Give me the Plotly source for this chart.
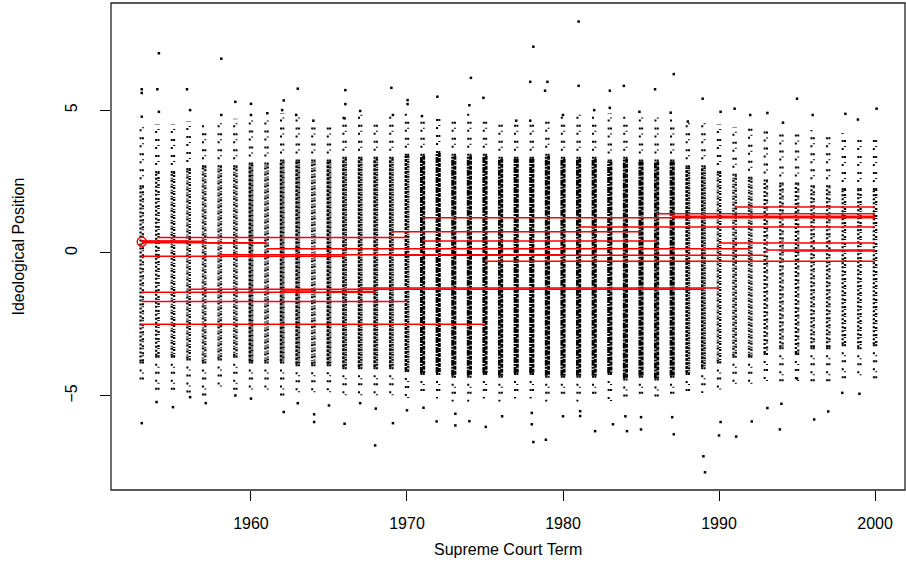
import plotly.graph_objects as go

# ---------------- data ----------------
years = list(range(1953, 2001))

# relative density of case points per term (drives how solid a strip looks)
cases = [80, 95, 100, 105, 115, 110, 110, 120, 115, 130,
         125, 115, 120, 125, 140, 130, 125, 140, 150, 160,
         150, 150, 160, 155, 150, 150, 145, 150, 165, 160,
         160, 150, 160, 155, 145, 140, 130, 110, 105, 100,
         90, 85, 80, 85, 90, 85, 80, 85]

# dense part of each term's strip
core_top = [2.3, 2.8, 2.8, 2.9, 3.0, 3.0, 3.0, 3.1, 3.1, 3.2,
            3.2, 3.2, 3.2, 3.3, 3.3, 3.3, 3.3, 3.4, 3.4, 3.5,
            3.4, 3.4, 3.4, 3.3, 3.3, 3.3, 3.4, 3.3, 3.3, 3.3,
            3.2, 3.3, 3.2, 3.2, 3.2, 3.0, 3.0, 2.8, 2.7, 2.6,
            2.5, 2.4, 2.4, 2.3, 2.3, 2.2, 2.2, 2.2]
core_bot = [-3.8, -3.6, -3.6, -3.7, -3.8, -3.7, -3.6, -3.8, -3.8, -3.8,
            -3.9, -3.9, -3.9, -4.0, -4.0, -4.0, -4.0, -4.1, -4.2, -4.2,
            -4.3, -4.3, -4.2, -4.3, -4.2, -4.2, -4.3, -4.3, -4.3, -4.3,
            -4.2, -4.4, -4.3, -4.4, -4.3, -4.2, -4.0, -3.8, -3.6, -3.6,
            -3.5, -3.3, -3.5, -3.3, -3.3, -3.2, -3.3, -3.2]
# sparse tails of each strip
body_top = [4.4, 4.5, 4.5, 4.6, 4.5, 4.6, 4.7, 4.7, 4.7, 4.9,
            4.8, 4.6, 4.6, 4.8, 4.9, 4.7, 4.8, 4.9, 4.7, 4.9,
            4.8, 4.9, 4.8, 4.6, 4.7, 4.7, 4.8, 4.8, 4.9, 4.8,
            4.9, 4.8, 4.8, 4.8, 4.7, 4.6, 4.6, 4.5, 4.4, 4.4,
            4.4, 4.3, 4.3, 4.3, 4.2, 4.2, 4.1, 4.1]
body_bot = [-4.6, -5.0, -5.0, -4.9, -5.0, -4.8, -4.9, -4.9, -4.8, -5.0,
            -5.0, -5.0, -4.9, -5.1, -5.0, -5.0, -5.1, -5.1, -5.0, -5.1,
            -5.2, -5.2, -5.1, -5.2, -5.1, -5.1, -5.2, -5.1, -5.2, -5.1,
            -5.2, -5.2, -5.1, -5.2, -5.0, -5.0, -4.9, -4.8, -4.7, -4.6,
            -4.6, -4.5, -4.5, -4.6, -4.5, -4.5, -4.4, -4.4]

# isolated case points outside the strips
out_x = [1953.0, 1953.0, 1953.0, 1954.1, 1954.0, 1954.1, 1955.9, 1956.1, 1958.1, 1958.1,
         1959.0, 1960.0, 1960.0, 1961.05, 1962.1, 1962.0, 1963.0, 1962.9, 1964.0, 1966.05,
         1966.05, 1966.0, 1967.0, 1969.0, 1969.1, 1970.04, 1970.04, 1970.96, 1971.95, 1974.1,
         1974.0, 1974.9, 1977.0, 1977.9, 1978.1, 1977.9, 1979.0, 1978.85, 1980.0, 1981.0,
         1981.0, 1982.0, 1983.0, 1983.0, 1983.9, 1984.9, 1985.9, 1987.1, 1986.9, 1988.0,
         1988.95, 1990.1, 1991.0, 1992.0, 1993.1, 1994.1, 1995.0, 1996.0, 1998.1, 1998.9,
         2000.1,
         1953.0, 1953.95, 1955.0, 1956.1, 1957.1, 1959.0, 1960.0, 1962.1, 1963.0, 1964.05,
         1964.05, 1965.0, 1966.0, 1967.0, 1967.96, 1968.0, 1969.1, 1970.0, 1971.06, 1971.9,
         1973.1, 1973.1, 1974.0, 1975.05, 1976.1, 1978.1, 1978.0, 1978.0, 1978.9, 1980.0,
         1981.1, 1981.1, 1982.06, 1983.2, 1984.1, 1984.0, 1985.0, 1985.0, 1987.1, 1987.0,
         1989.1, 1989.0, 1990.0, 1990.1, 1991.1, 1992.1, 1993.1, 1994.0, 1993.9, 1995.0,
         1996.1, 1997.0, 1997.9, 1999.0]
out_y = [5.73, 5.60, 4.77, 6.99, 5.73, 4.94, 5.73, 5.00, 6.80, 4.83,
         5.29, 5.22, 4.83, 4.89, 5.34, 5.00, 5.75, 4.83, 4.63, 5.70,
         5.21, 4.71, 4.97, 5.78, 4.83, 5.35, 5.21, 4.79, 5.47, 6.13,
         5.17, 5.43, 4.63, 4.63, 7.22, 5.99, 5.99, 5.68, 4.83, 8.10,
         5.85, 5.00, 5.68, 5.08, 5.85, 4.94, 5.73, 6.26, 4.91, 4.60,
         5.40, 4.94, 5.05, 4.83, 4.90, 4.56, 5.40, 4.83, 4.87, 4.67,
         5.05,
         -5.96, -5.22, -5.40, -5.05, -5.26, -4.99, -5.10, -5.57, -5.26, -5.92,
         -5.65, -5.34, -5.98, -5.26, -6.74, -5.45, -5.96, -5.51, -5.42, -5.90,
         -6.04, -5.63, -5.89, -6.09, -5.72, -6.62, -6.00, -5.60, -6.54, -5.72,
         -5.54, -5.71, -6.24, -6.00, -6.24, -5.72, -6.18, -5.75, -6.35, -5.75,
         -7.68, -7.12, -6.39, -5.92, -6.43, -5.90, -5.43, -5.28, -6.18, -4.40,
         -5.83, -5.55, -4.90, -4.93]

# justices: first term, last term, ideological position
justice_start = [1953, 1953, 1953, 1953, 1957, 1954, 1953, 1958, 1969, 1961,
                 1953, 1953, 1953, 1956, 1967, 1962, 1965, 1969, 1971, 1971,
                 1975, 1981, 1986, 1987, 1990, 1991, 1993, 1994]
justice_end = [1961, 1956, 1957, 1955, 1961, 1970, 1966, 1980, 1993, 1992,
               1968, 1970, 1975, 1989, 1990, 1964, 1968, 1985, 1986, 2000,
               2000, 2000, 2000, 2000, 2000, 2000, 2000, 2000]
justice_pos = [0.36, 0.42, 0.41, 0.39, 0.35, 0.54, -0.12, -0.06, -0.08, 0.15,
               -1.38, -1.70, -2.50, -1.27, -1.23, -1.33, -1.35, 0.74, 0.42, 1.23,
               -0.29, 0.91, 1.37, 1.28, 0.35, 1.61, 0.10, 0.07]
# single-term justice
single_year = [1953]
single_pos = [0.39]

x_ticks = [1960, 1970, 1980, 1990, 2000]
y_ticks = [-5, 0, 5]

# ---------------- figure ----------------
FONT = "Liberation Sans, Arial, Helvetica, sans-serif"
fig = go.Figure()


def core_style(n):
    # two interleaved dash patterns (left / right half of the jittered strip) and width
    if n >= 145:
        return "6px,1px,2px,1px", "4px,1px", 2.8
    if n >= 120:
        return "3px,1px", "2px,1px,1px,1px", 2.5
    if n >= 100:
        return "2px,1px,1px,2px", "1px,1px,2px,2px", 2.4
    return "2px,2px", "1px,3px,2px,1px", 2.3


JIT = 0.075  # half-width of the horizontal jitter, in terms
for yr, ct, cb, bt, bb, n in zip(years, core_top, core_bot, body_top, body_bot, cases):
    da, db, w = core_style(n)
    for off, dash_tail in ((-JIT, "2px,6px"), (JIT, "2px,9px,1px,4px")):
        fig.add_trace(go.Scatter(x=[yr + off, yr + off, None, yr + off, yr + off],
                                 y=[ct, bt, None, cb, bb], mode="lines",
                                 line=dict(color="black", width=2, dash=dash_tail),
                                 hoverinfo="skip", showlegend=False))
    fig.add_trace(go.Scatter(x=[yr - JIT, yr - JIT], y=[cb, ct], mode="lines",
                             line=dict(color="black", width=w, dash=da),
                             hoverinfo="skip", showlegend=False))
    fig.add_trace(go.Scatter(x=[yr + JIT, yr + JIT], y=[ct, cb], mode="lines",
                             line=dict(color="black", width=w, dash=db),
                             hoverinfo="skip", showlegend=False))

fig.add_trace(go.Scatter(x=out_x, y=out_y, mode="markers",
                         marker=dict(symbol="square", size=2.5, color="black", line=dict(width=0)),
                         hoverinfo="skip", showlegend=False))

lx, ly = [], []
for s, e, p in zip(justice_start, justice_end, justice_pos):
    lx += [s, e, None]
    ly += [p, p, None]
fig.add_trace(go.Scatter(x=lx, y=ly, mode="lines", line=dict(color="red", width=1.5),
                         hoverinfo="skip", showlegend=False))
fig.add_trace(go.Scatter(x=single_year, y=single_pos, mode="markers",
                         marker=dict(symbol="circle-open", size=9, color="red",
                                     line=dict(width=1.5, color="red")),
                         hoverinfo="skip", showlegend=False))

fig.update_layout(
    width=906, height=570,
    margin=dict(l=111, r=1, t=3, b=80),
    paper_bgcolor="white", plot_bgcolor="white",
    font=dict(family=FONT, size=16, color="black"),
    xaxis=dict(range=[1951.03, 2001.92], tickvals=x_ticks, ticktext=[str(v) for v in x_ticks],
               ticks="outside", ticklen=10, tickcolor="black", tickwidth=1,
               showgrid=False, zeroline=False, showline=False, ticklabelstandoff=9,
               tickfont=dict(size=16)),
    yaxis=dict(range=[-8.30, 8.75], tickvals=y_ticks, ticktext=["\u22125", "0", "5"],
               ticks="outside", ticklen=10, tickcolor="black", tickwidth=1, tickangle=-90,
               showgrid=False, zeroline=False, showline=False, ticklabelstandoff=17,
               tickfont=dict(size=16)),
    shapes=[dict(type="rect", xref="paper", yref="paper", x0=0, x1=1, y0=0, y1=1,
                 line=dict(color="#222", width=1.3), fillcolor="rgba(0,0,0,0)", layer="above")],
    annotations=[
        dict(text="Supreme Court Term", xref="paper", yref="paper", x=0.5, y=-0.1223,
             xanchor="center", yanchor="middle", showarrow=False, font=dict(size=16)),
        dict(text="Ideological Position", xref="paper", yref="paper", x=-0.1171, y=0.5,
             xanchor="center", yanchor="middle", textangle=-90, showarrow=False,
             font=dict(size=16)),
    ],
)

fig.write_html("out.html", config={"displayModeBar": False},
               post_script="document.body.style.margin='0px';")
